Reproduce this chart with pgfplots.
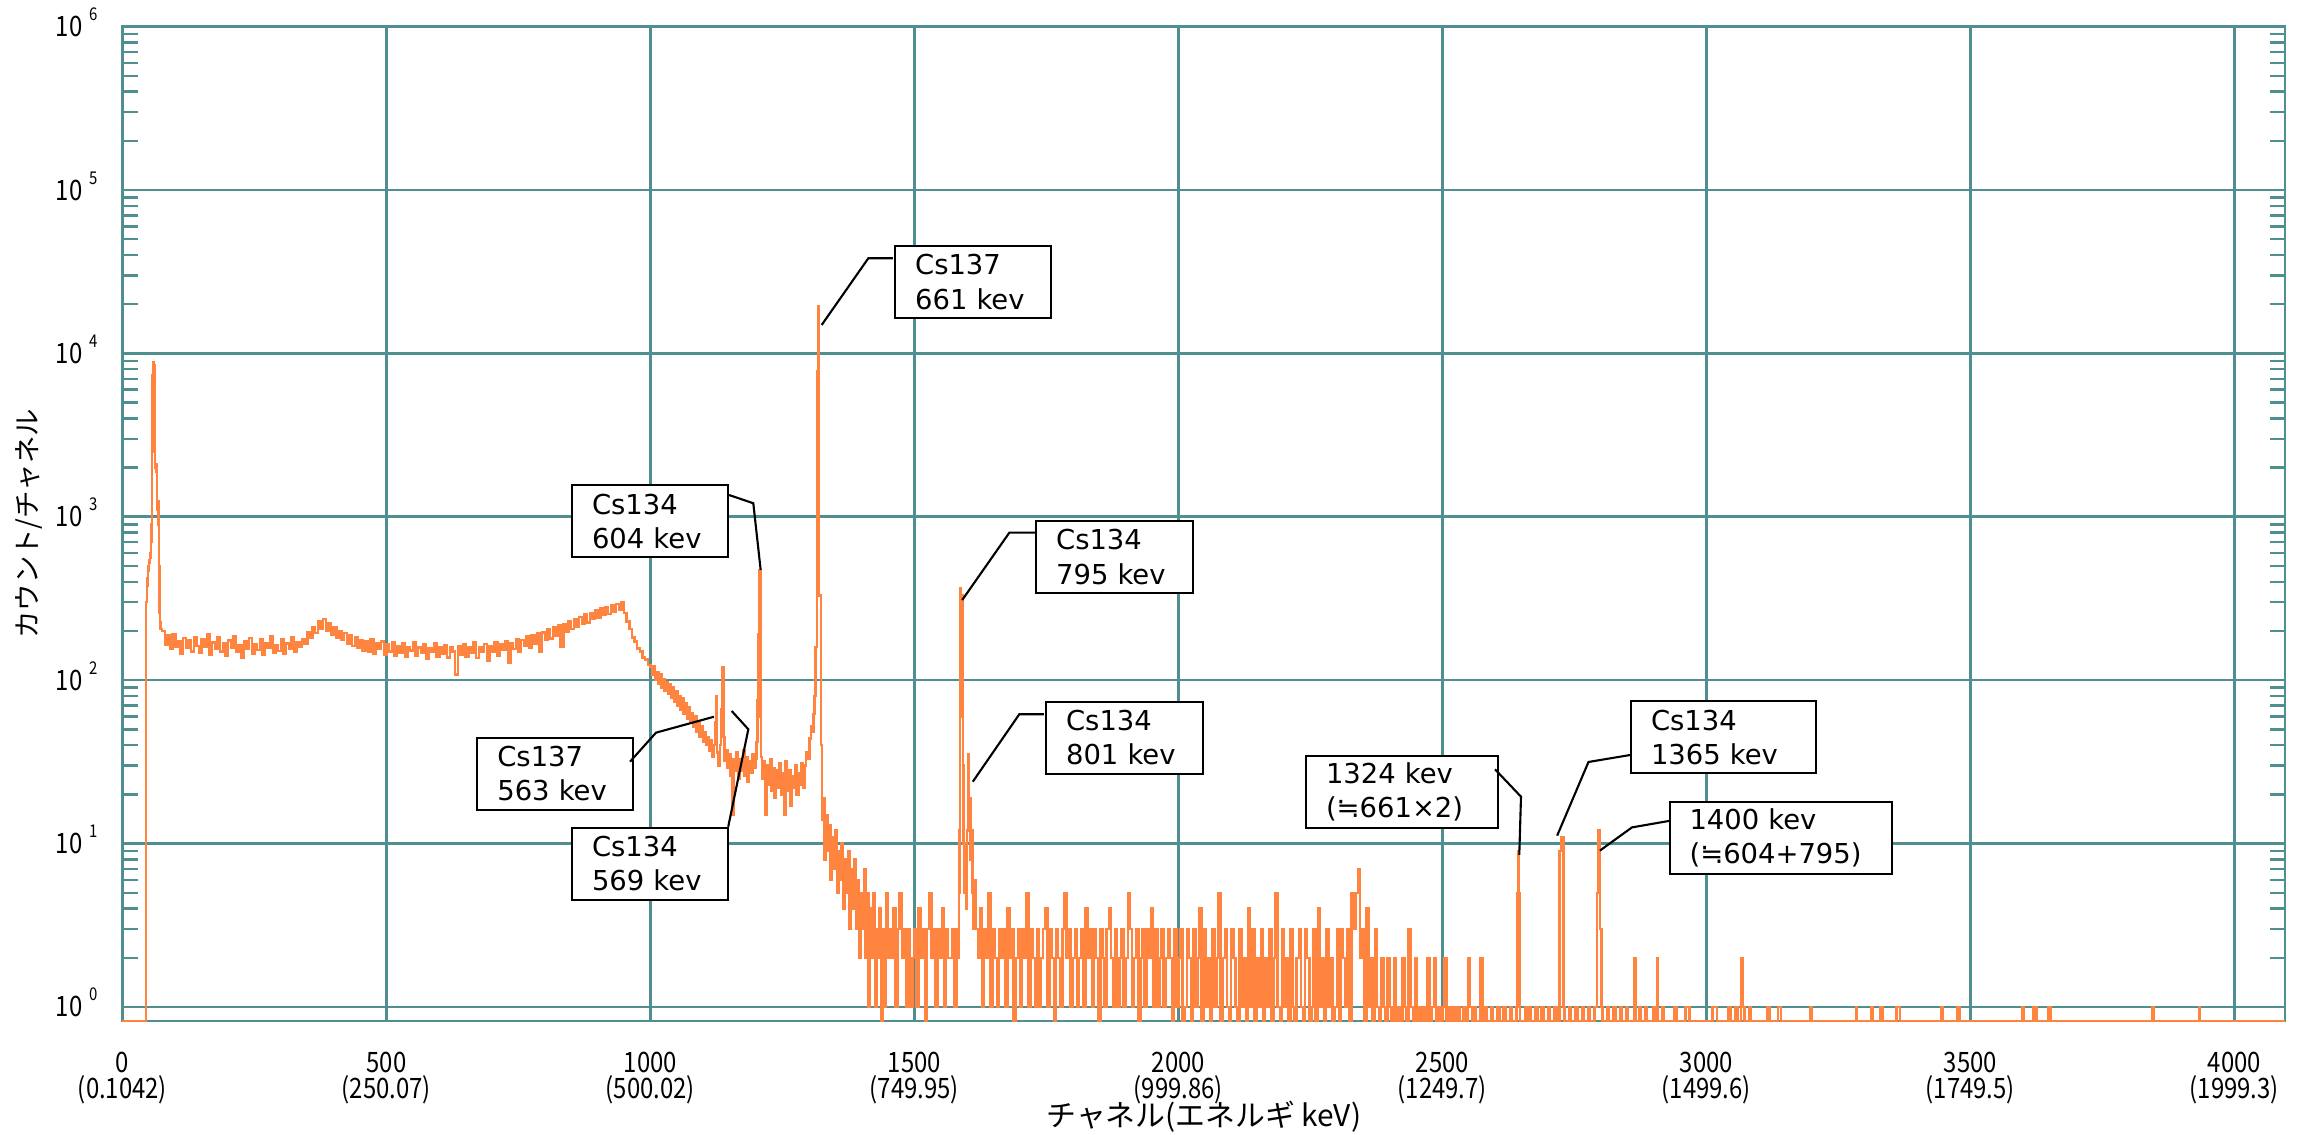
\documentclass[border=0pt]{standalone}
\usepackage{fontspec}
\setmainfont{DejaVu Sans}
\newfontfamily\cjk{Noto Sans CJK JP}
\newfontfamily\tickfont[FakeStretch=0.85]{Noto Sans CJK JP}
\usepackage{pgfplots}
\pgfplotsset{compat=1.18}

\definecolor{gridc}{RGB}{79,143,143}
\definecolor{spec}{RGB}{255,132,64}

% y tick label: 10 with a small raised exponent
\newcommand{\ytl}[1]{10\hspace{0.7mm}\raisebox{1.6mm}{\fontsize{5}{5}\selectfont #1}}

\tikzset{
  anbox/.style={draw=black, line width=0.6pt, fill=white, anchor=north west,
    minimum height=7.2mm, inner xsep=2mm, inner ysep=0pt, align=left,
    font=\fontsize{7.8}{9.8}\selectfont},
  leader/.style={black, line width=0.6pt},
}

\begin{document}
\begin{tikzpicture}
\path[use as bounding box] (-1.225,-1.13) rectangle (21.925,10.21);
\begin{axis}[
  scale only axis, width=21.625cm, height=9.943cm,
  xmin=0, xmax=4096,
  ymode=log, ymin=0.82, ymax=1e6,
  clip=false,
  axis line style={gridc, line width=0.75pt},
  grid=major,
  major grid style={gridc, line width=0.75pt},
  xtick={0,500,...,4000},
  xticklabels={{0\\(0.1042)},{500\\(250.07)},{1000\\(500.02)},{1500\\(749.95)},
    {2000\\(999.86)},{2500\\(1249.7)},{3000\\(1499.6)},{3500\\(1749.5)},{4000\\(1999.3)}},
  ytick={1,10,100,1000,10000,100000,1000000},
  yticklabels={\ytl{0},\ytl{1},\ytl{2},\ytl{3},\ytl{4},\ytl{5},\ytl{6}},
  minor ytick={2,3,4,5,6,7,8,9,20,30,40,50,60,70,80,90,200,300,400,500,600,700,800,900,
    2000,3000,4000,5000,6000,7000,8000,9000,20000,30000,40000,50000,60000,70000,80000,90000,
    200000,300000,400000,500000,600000,700000,800000,900000},
  major tick length=0pt, minor tick length=1.5mm,
  tick style={gridc, line width=0.7pt},
  xticklabel style={font=\tickfont\fontsize{8}{7.6}\selectfont, align=center,
    anchor=north, inner sep=0pt, yshift=-3mm},
  yticklabel style={font=\tickfont\fontsize{8}{8}\selectfont, anchor=base east,
    inner sep=0pt, xshift=-2.4mm, yshift=-1.0mm},
  xlabel={\cjk チャネル(エネルギ keV)},
  xlabel style={at={([yshift=-9.6mm]axis description cs:0.5,0)}, anchor=center,
    font=\fontsize{8.5}{8.5}\selectfont},
  ylabel={\cjk カウント/チャネル},
  ylabel style={at={([xshift=-9.4mm]axis description cs:0,0.5)}, anchor=center,
    font=\fontsize{7.8}{7.8}\selectfont},
]

% spectrum, counts per channel (zero counts drawn on the bottom edge as 0.82)
\addplot[spec, line width=0.7pt, const plot, mark=none] coordinates {
(0,0.82)(45,300)(46,420)(47,380)(48,470)(49,500)(50,520)(51,540)(52,560)(53,600)(54,700)(55,900)
(56,2500)(57,7400)(58,8200)(59,8800)(60,8500)(61,5000)(62,2000)(63,2100)(64,1900)(65,1200)(66,1100)
(67,1250)(68,900)(69,500)(70,260)(71,225)(72,205)
(75,200)(80,165)(85,188)(90,155)(95,192)(100,160)(105,172)(110,146)(115,181)(120,158)(125,176)
(130,150)(135,184)(140,162)(145,147)(150,178)(155,160)(160,190)(165,144)(170,170)(175,156)(180,183)
(185,150)(190,168)(195,141)(200,175)(205,158)(210,186)(215,149)(220,164)(225,137)(230,172)(235,155)
(240,181)(245,146)(250,166)(255,153)(260,177)(265,143)(270,169)(275,158)(280,185)(285,148)(290,163)
(295,151)(300,179)(305,145)(310,168)(315,156)(320,182)(325,150)(330,171)(335,160)(340,178)(345,168)
(350,196)(355,182)(360,212)(365,195)(370,228)(375,205)(380,236)(385,200)(390,222)(395,190)(400,210)
(405,182)(410,200)(415,176)(420,194)(425,168)(430,188)(435,162)(440,182)(445,158)(450,176)(455,152)
(460,172)(465,150)(470,178)(475,146)(480,168)(485,155)(490,173)(495,144)(500,166)(505,150)(510,170)
(515,141)(520,162)(525,148)(530,168)(535,139)(540,160)(545,152)(550,171)(555,142)(560,158)(565,147)
(570,166)(575,136)(580,157)(585,149)(590,168)(595,140)(600,160)(605,146)(610,164)(615,138)(620,158)
(625,150)(630,108)(635,162)(640,143)(645,166)(650,140)(655,158)(660,147)(665,170)(670,137)(675,160)
(680,149)(685,166)(690,131)(695,162)(700,150)(705,170)(710,142)(715,165)(720,154)(725,174)(730,128)
(735,168)(740,155)(745,178)(750,150)(755,176)(760,162)(765,185)(770,158)(775,188)(780,168)(785,194)
(790,150)(795,196)(800,176)(805,204)(810,180)(815,210)(820,188)(825,216)(830,160)(835,220)(840,198)
(845,228)(850,205)(855,236)(860,212)(865,244)(870,220)(875,252)(880,226)(885,258)(890,236)(895,268)
(900,242)(905,274)(910,250)(915,280)(920,255)(925,286)(930,262)(935,292)(940,270)(945,298)(950,258)
(955,228)(960,205)(965,182)(970,172)(975,156)(980,150)(985,138)(990,134)(995,124)
(1000,120)(1003,108)(1006,122)(1009,100)(1012,112)(1015,95)(1018,108)(1021,90)(1024,102)(1027,86)
(1030,97)(1033,82)(1036,94)(1039,78)(1042,90)(1045,74)(1048,86)(1051,70)(1054,80)(1057,66)(1060,78)
(1063,62)(1066,72)(1069,58)(1072,68)(1075,55)(1078,63)(1081,52)(1084,60)(1087,48)(1090,56)(1093,45)
(1096,52)(1099,42)(1102,48)(1105,40)(1108,45)(1111,37)(1114,43)(1117,34)(1120,40)(1123,55)(1124,80)
(1126,36)(1129,30)(1132,40)(1134,66)(1136,120)(1138,45)(1140,32)(1143,37)(1146,29)(1149,35)(1152,26)
(1155,15)(1157,33)(1160,28)(1163,36)(1166,25)(1169,33)(1172,28)(1175,37)(1178,26)(1181,34)(1184,24)
(1187,32)(1190,27)(1193,35)(1196,29)(1199,33)(1201,42)(1203,75)(1204,190)(1206,470)(1208,60)(1209,34)
(1211,25)(1214,32)(1217,15)(1220,30)(1223,23)(1226,33)(1229,21)(1232,29)(1235,19)(1238,28)(1241,22)
(1244,31)(1247,20)(1250,27)(1253,15)(1256,32)(1259,21)(1262,28)(1265,17)(1268,26)(1271,22)(1274,30)
(1277,20)(1280,27)(1283,23)(1286,31)(1289,22)(1292,30)(1295,36)(1298,33)(1301,44)(1304,52)(1307,48)
(1309,62)(1311,80)(1313,160)(1315,7800)(1317,19500)(1319,330)(1323,40)(1325,14)
(1327,19)(1330,8)(1332,15)(1335,9)(1338,13)(1341,6)(1344,11)(1347,7)(1350,12)(1353,5)(1356,9)(1359,6)
(1362,10)(1365,4)(1368,8)(1371,5)(1374,9)(1377,3)(1380,7)(1383,4)(1386,8)(1389,3)(1392,6)(1395,2)
(1398,5)(1401,3)(1404,7)(1407,2)(1410,5)(1413,1)(1416,4)(1419,2)(1422,5)(1425,1)(1428,3)(1431,2)
(1434,4)(1437,0.82)(1440,3)(1443,1)(1446,5)(1449,2)(1452,3)
(1456,2)(1460,4)(1464,1)(1468,3)(1472,5)(1476,2)(1480,3)(1484,1)(1488,3)(1492,1)(1496,2)(1500,3)
(1504,1)(1508,4)(1512,2)(1516,3)(1520,0.82)(1524,3)(1528,5)(1532,2)(1536,3)(1540,1)(1544,3)(1548,2)
(1552,4)(1556,1)(1560,3)(1564,2)(1568,2)(1572,3)(1576,1)(1580,3)
(1583,2)(1584,5)(1585,12)(1586,60)(1587,363)(1588,300)(1589,300)(1590,330)(1591,120)(1592,30)(1593,10)
(1595,5)(1597,7)(1599,4)(1600,12)(1601,35)(1602,19)(1604,19)(1606,8)(1608,12)(1610,5)(1612,3)(1614,6)
(1616,3)(1620,2)(1624,4)(1628,1)(1632,3)(1636,2)(1640,5)(1644,1)(1648,3)(1652,2)(1656,1)(1660,3)
(1664,2)(1668,3)(1672,1)(1676,4)(1680,2)(1684,3)(1688,0.82)(1692,2)(1696,3)(1700,1)(1704,3)(1708,2)
(1712,5)(1716,1)(1720,3)(1724,2)(1728,1)(1732,3)(1736,1)(1740,2)(1744,3)(1748,4)(1752,1)(1756,3)
(1760,2)(1764,0.82)(1768,3)(1772,2)(1776,1)(1780,3)(1784,5)(1788,2)(1792,3)(1796,1)(1800,2)(1804,3)
(1808,1)(1812,2)(1816,3)(1820,1)(1824,4)(1828,2)(1832,3)(1836,1)(1840,3)(1844,2)(1848,0.82)(1852,3)
(1856,2)(1860,1)(1864,3)(1868,4)(1872,2)(1876,1)(1880,3)(1884,1)(1888,2)(1892,3)(1896,1)(1900,2)
(1904,5)(1908,3)(1912,1)(1916,2)(1920,3)(1924,0.82)(1928,2)(1932,3)(1936,1)(1940,3)(1944,2)(1948,4)
(1952,1)(1956,3)(1960,1)(1964,2)(1968,3)(1972,1)(1976,2)(1980,3)(1984,2)(1988,0.82)(1992,3)(1996,1)
(2000,2)(2004,3)(2008,0.82)(2012,1)(2016,3)(2020,2)(2024,0.82)(2028,3)(2032,1)(2036,2)(2040,4)
(2044,0.82)(2048,3)(2052,1)(2056,2)(2060,0.82)(2064,3)(2068,1)(2072,2)(2076,5)(2080,0.82)(2084,2)
(2088,3)(2092,1)(2096,0.82)(2100,3)(2104,2)(2108,1)(2112,0.82)(2116,3)(2120,1)(2124,2)(2128,0.82)
(2132,4)(2136,1)(2140,3)(2144,0.82)(2148,2)(2152,1)(2156,3)(2160,0.82)(2164,2)(2168,1)(2172,3)
(2176,0.82)(2180,2)(2184,5)(2188,1)(2192,0.82)(2196,3)(2200,1)(2204,2)(2208,0.82)(2212,3)(2216,1)
(2220,0.82)(2224,2)(2228,3)(2232,1)(2236,0.82)(2240,3)(2244,2)(2248,0.82)(2252,1)(2256,3)(2260,0.82)
(2264,4)(2268,1)(2272,2)(2276,0.82)(2280,3)(2284,1)(2288,2)(2292,0.82)(2296,1)(2300,3)(2304,0.82)
(2308,3)(2312,2)(2316,1)(2320,3)(2324,0.82)(2328,5)(2332,3)(2336,5)(2340,7)(2344,2)(2348,3)
(2352,0.82)(2356,4)(2360,1)(2364,2)(2368,0.82)(2372,3)(2376,1)(2380,0.82)(2384,2)(2388,1)(2392,0.82)
(2396,2)(2400,1)(2404,0.82)(2408,2)(2412,0.82)(2416,1)(2420,0.82)(2424,2)(2428,1)(2432,0.82)(2436,3)
(2440,1)(2444,0.82)(2448,2)(2452,0.82)(2456,1)(2460,0.82)
(2464,1)(2468,0.82)(2472,2)(2476,0.82)(2480,1)(2484,2)(2488,0.82)(2492,1)(2496,0.82)(2500,1)(2504,2)
(2508,0.82)(2512,1)(2516,0.82)(2520,1)(2524,0.82)(2528,1)(2532,0.82)(2540,1)(2544,0.82)(2548,2)
(2552,1)(2556,0.82)(2560,1)(2564,0.82)(2572,2)(2576,0.82)(2580,1)(2584,0.82)(2592,1)(2596,0.82)
(2604,1)(2608,0.82)(2616,1)(2620,0.82)(2628,1)(2632,0.82)(2640,1)
(2642,5)(2643,9)(2645,5)(2647,0.82)(2656,1)(2660,0.82)(2664,1)(2668,0.82)(2676,1)(2680,0.82)(2688,1)
(2692,0.82)(2700,1)(2704,0.82)(2712,1)(2716,0.82)
(2722,9)(2725,11)(2729,1)(2731,0.82)(2740,1)(2744,0.82)(2752,1)(2756,0.82)(2764,1)(2768,0.82)
(2776,1)(2780,0.82)(2788,1)
(2793,5)(2795,12)(2799,3)(2801,1)(2803,0.82)(2812,1)(2816,0.82)(2824,1)(2828,0.82)(2836,1)(2840,0.82)
(2848,1)(2852,0.82)(2864,2)(2866,0.82)(2872,1)(2876,0.82)(2884,1)(2888,0.82)(2900,1)(2904,0.82)
(2906,2)(2908,0.82)(2916,1)(2920,0.82)(2940,1)(2944,0.82)(2960,1)(2968,0.82)(3012,1)(3020,0.82)
(3042,1)(3046,0.82)(3055,1)(3060,0.82)(3066,2)(3068,1)(3072,0.82)(3082,1)(3084,0.82)(3116,1)
(3120,0.82)(3136,1)(3141,0.82)(3197,1)(3199,0.82)(3283,1)(3285,0.82)(3313,1)(3316,0.82)(3330,1)
(3334,0.82)(3360,1)(3367,0.82)(3444,1)(3447,0.82)(3476,1)(3480,0.82)(3598,1)(3602,0.82)(3620,1)
(3625,0.82)(3648,1)(3653,0.82)(3845,1)(3847,0.82)(3933,1)(3935,0.82)(4096,0.82)
};

% annotations
\node[anbox, text width=11.6mm] at (rel axis cs:0.3568,0.7804) {Cs137\\661 kev};
\draw[leader] (rel axis cs:0.3563,0.7671) -- (rel axis cs:0.3449,0.7671) -- (rel axis cs:0.3233,0.7000);

\node[anbox, text width=11.6mm] at (rel axis cs:0.2074,0.5398) {Cs134\\604 kev};
\draw[leader] (rel axis cs:0.2805,0.5290) -- (rel axis cs:0.2917,0.5207) -- (rel axis cs:0.2951,0.4536);

\node[anbox, text width=11.6mm] at (rel axis cs:0.1636,0.2859) {Cs137\\563 kev};
\draw[leader] (rel axis cs:0.2347,0.2608) -- (rel axis cs:0.2467,0.2900) -- (rel axis cs:0.2735,0.3060);

\node[anbox, text width=11.6mm] at (rel axis cs:0.2074,0.1954) {Cs134\\569 kev};
\draw[leader] (rel axis cs:0.2801,0.1954) -- (rel axis cs:0.2894,0.2934) -- (rel axis cs:0.2817,0.3118);

\node[anbox, text width=11.7mm] at (rel axis cs:0.4220,0.5039) {Cs134\\795 kev};
\draw[leader] (rel axis cs:0.4220,0.4911) -- (rel axis cs:0.4101,0.4911) -- (rel axis cs:0.3883,0.4234);

\node[anbox, text width=11.7mm] at (rel axis cs:0.4266,0.3221) {Cs134\\801 kev};
\draw[leader] (rel axis cs:0.4261,0.3085) -- (rel axis cs:0.4147,0.3085) -- (rel axis cs:0.3932,0.2407);

\node[anbox, text width=15.2mm] at (rel axis cs:0.5468,0.2675) {1324 kev\\(≒661×2)};
\draw[leader] (rel axis cs:0.6347,0.2531) -- (rel axis cs:0.6467,0.2256) -- (rel axis cs:0.6459,0.1670);

\node[anbox, text width=14.5mm] at (rel axis cs:0.6971,0.3225) {Cs134\\1365 kev};
\draw[leader] (rel axis cs:0.6971,0.2675) -- (rel axis cs:0.6779,0.2605) -- (rel axis cs:0.6634,0.1864);

\node[anbox, text width=18.2mm] at (rel axis cs:0.7149,0.2215) {1400 kev\\(≒604+795)};
\draw[leader] (rel axis cs:0.7156,0.2014) -- (rel axis cs:0.6980,0.1947) -- (rel axis cs:0.6832,0.1714);

\end{axis}
\end{tikzpicture}
\end{document}
